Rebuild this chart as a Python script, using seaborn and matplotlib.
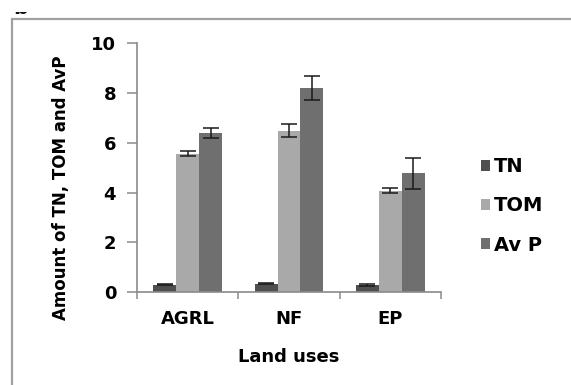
import matplotlib
matplotlib.use("Agg")
import matplotlib.pyplot as plt
from matplotlib.patches import Rectangle
import seaborn as sns
import pandas as pd

# Soil properties by land use
land_uses = ["AGRL", "NF", "EP"]
properties = ["TN", "TOM", "Av P"]
tn_values = [0.30, 0.34, 0.29]
tn_errors = [0.03, 0.03, 0.03]
tom_values = [5.55, 6.49, 4.08]
tom_errors = [0.10, 0.25, 0.09]
avp_values = [6.40, 8.20, 4.77]
avp_errors = [0.20, 0.47, 0.62]
y_ticks = [0, 2, 4, 6, 8, 10]

palette = {"TN": "#4f4f4f", "TOM": "#a9a9a9", "Av P": "#6f6f6f"}

values = {"TN": tn_values, "TOM": tom_values, "Av P": avp_values}
errors = {"TN": tn_errors, "TOM": tom_errors, "Av P": avp_errors}
df = pd.DataFrame(
    [(lu, prop, values[prop][i]) for prop in properties for i, lu in enumerate(land_uses)],
    columns=["Land uses", "Property", "Amount"],
)

sns.set_theme(style="white")
plt.rcParams["font.family"] = ["DejaVu Sans"]
for key in ("text.color", "axes.labelcolor", "xtick.color", "ytick.color"):
    plt.rcParams[key] = "black"

W, H = 571, 385
fig = plt.figure(figsize=(W / 100, H / 100), dpi=100)
ax = fig.add_axes([137 / W, 1 - 292 / H, (441 - 137) / W, (292 - 43.3) / H])

sns.barplot(
    data=df, x="Land uses", y="Amount", hue="Property",
    hue_order=properties, order=land_uses, palette=palette,
    width=0.68, gap=0, errorbar=None, saturation=1, ax=ax,
    linewidth=0,
)

# error bars centred on each bar
for prop, container in zip(properties, ax.containers):
    xs = [p.get_x() + p.get_width() / 2 for p in container.patches]
    ys = [p.get_height() for p in container.patches]
    ax.errorbar(xs, ys, yerr=errors[prop], fmt="none", ecolor="#1a1a1a",
                elinewidth=1.1, capsize=5.5, capthick=1.1, zorder=5)

ax.set_ylim(0, 10)
ax.set_xlim(-0.5, 2.5)
ax.set_yticks(y_ticks)
ax.set_yticklabels([str(t) for t in y_ticks], fontsize=13, fontweight="bold")

# category boundary ticks, labels at category centres
ax.set_xticks([-0.5, 0.5, 1.5, 2.5])
ax.set_xticklabels([])
ax.set_xticks([0, 1, 2], minor=True)
ax.set_xticklabels(land_uses, minor=True, fontsize=13, fontweight="bold")
ax.tick_params(axis="x", which="major", length=5, width=1.1, color="#8a8a8a", direction="out", bottom=True)
ax.tick_params(axis="x", which="minor", length=0, pad=13, bottom=True)
ax.tick_params(axis="y", length=7, width=1.1, color="#8a8a8a", direction="out", pad=8, left=True)

for side in ("top", "right"):
    ax.spines[side].set_visible(False)
for side in ("left", "bottom"):
    ax.spines[side].set_color("#8a8a8a")
    ax.spines[side].set_linewidth(1.2)

ax.set_xlabel("Land uses", fontsize=13, fontweight="bold", va="center")
ax.xaxis.set_label_coords(0.5, (292 - 357) / 248.7)
ax.set_ylabel("Amount of TN, TOM and AvP", fontsize=12, fontweight="bold",
              va="center", ha="center")
ax.yaxis.set_label_coords((61 - 137) / 304, (292 - 187.5) / 248.7)

sns.move_legend(
    ax, "center left", bbox_to_anchor=(481 / W, 1 - 206 / H),
    bbox_transform=fig.transFigure, frameon=False, title=None,
    fontsize=14, handlelength=0.45, handleheight=0.45, handletextpad=0.2,
    labelspacing=1.03, borderpad=0, borderaxespad=0,
)
for t in ax.get_legend().get_texts():
    t.set_fontweight("bold")

# outer frame around the panel
fig.add_artist(Rectangle((12 / W, -0.2), 1.2, 1 - 19 / H + 0.2,
                         transform=fig.transFigure, fill=False,
                         edgecolor="#a0a0a0", linewidth=1.6))

# panel letter, mostly above the top edge of the page
fig.text(13 / W, 1 - 14.5 / H, "b", fontsize=15, fontweight="bold",
         color="#111111", va="baseline", ha="left", zorder=3)
fig.add_artist(Rectangle((0, 1 - 11.5 / H), 0.2, 11.5 / H,
                         transform=fig.transFigure, facecolor="white",
                         edgecolor="none", zorder=10))

fig.savefig("out.png", dpi=100)
